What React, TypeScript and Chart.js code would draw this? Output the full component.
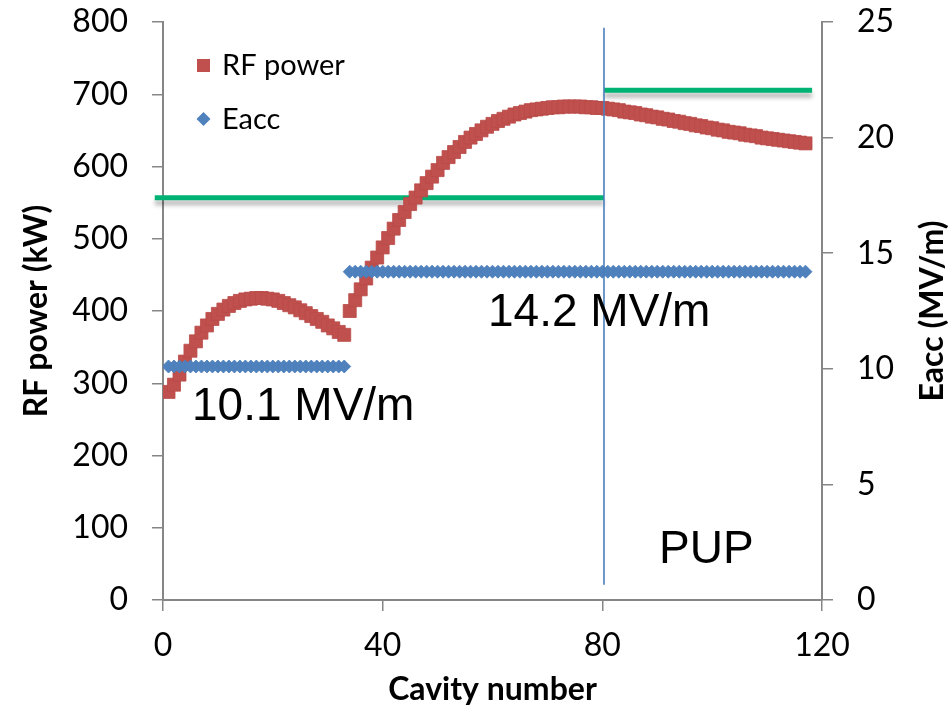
import React, { useEffect, useRef } from "react";
import { Chart, registerables } from "chart.js";

Chart.register(...registerables);

const CAVITY = [
  1, 2, 3, 4, 5, 6, 7, 8, 9, 10, 11, 12, 13, 14, 15, 16, 17, 18, 19, 20,
  21, 22, 23, 24, 25, 26, 27, 28, 29, 30, 31, 32, 33, 34, 35, 36, 37, 38, 39, 40,
  41, 42, 43, 44, 45, 46, 47, 48, 49, 50, 51, 52, 53, 54, 55, 56, 57, 58, 59, 60,
  61, 62, 63, 64, 65, 66, 67, 68, 69, 70, 71, 72, 73, 74, 75, 76, 77, 78, 79, 80,
  81, 82, 83, 84, 85, 86, 87, 88, 89, 90, 91, 92, 93, 94, 95, 96, 97, 98, 99, 100,
  101, 102, 103, 104, 105, 106, 107, 108, 109, 110, 111, 112, 113, 114, 115, 116, 117, 118,
];

// RF power (kW), cavities 1..117
const RF_POWER = [
  288, 298, 312, 330, 345, 358, 370, 380, 389, 396, 402, 407, 411, 414, 416, 417, 418, 418, 417, 416,
  414, 411, 408, 405, 401, 397, 393, 389, 385, 380, 376, 371, 367,
  400, 415, 430, 445, 460, 474, 488, 501, 514, 526, 537, 548, 557, 567, 577, 586, 595, 605, 613, 620,
  627, 634, 640, 645, 650, 655, 659, 663, 666, 669, 672, 674, 676, 678, 679, 680, 681, 682, 682, 683,
  683, 683, 683, 682, 682, 681, 681, 680, 679, 678, 676, 675, 674, 672, 671, 669, 668, 666, 665, 663,
  662, 660, 659, 657, 656, 654, 653, 651, 650, 648, 647, 646, 644, 643, 642, 640, 639, 638, 637, 636,
  635, 634, 633, 632,
];

// Eacc (MV/m), cavities 1..118
const EACC = [
  10.1, 10.1, 10.1, 10.1, 10.1, 10.1, 10.1, 10.1, 10.1, 10.1, 10.1, 10.1, 10.1, 10.1, 10.1, 10.1, 10.1,
  10.1, 10.1, 10.1, 10.1, 10.1, 10.1, 10.1, 10.1, 10.1, 10.1, 10.1, 10.1, 10.1, 10.1, 10.1, 10.1,
  14.2, 14.2, 14.2, 14.2, 14.2, 14.2, 14.2, 14.2, 14.2, 14.2, 14.2, 14.2, 14.2, 14.2, 14.2, 14.2, 14.2,
  14.2, 14.2, 14.2, 14.2, 14.2, 14.2, 14.2, 14.2, 14.2, 14.2, 14.2, 14.2, 14.2, 14.2, 14.2, 14.2, 14.2,
  14.2, 14.2, 14.2, 14.2, 14.2, 14.2, 14.2, 14.2, 14.2, 14.2, 14.2, 14.2, 14.2, 14.2, 14.2, 14.2, 14.2,
  14.2, 14.2, 14.2, 14.2, 14.2, 14.2, 14.2, 14.2, 14.2, 14.2, 14.2, 14.2, 14.2, 14.2, 14.2, 14.2, 14.2,
  14.2, 14.2, 14.2, 14.2, 14.2, 14.2, 14.2, 14.2, 14.2, 14.2, 14.2, 14.2, 14.2, 14.2, 14.2, 14.2,
];

// Green limit lines (Eacc axis)
const LIMIT_LEVELS = [17.4, 22.05];
const LIMIT_FROM = [-1.5, 80.3];
const LIMIT_TO = [80.3, 118.2];

// PUP boundary (cavity number, RF power range)
const PUP_X = 80.3;
const PUP_Y_RANGE = [21, 792];

const X_TICKS = [0, 40, 80, 120];
const LEFT_TICKS = [0, 100, 200, 300, 400, 500, 600, 700, 800];
const RIGHT_TICKS = [0, 5, 10, 15, 20, 25];

const LABELS = {
  series1: "RF power",
  series2: "Eacc",
  xTitle: "Cavity number",
  yTitle: "RF power (kW)",
  y2Title: "Eacc (MV/m)",
  note1: "10.1 MV/m",
  note2: "14.2 MV/m",
  note3: "PUP",
};

const RED = "#c0504d";
const BLUE = "#4f81bd";
const GREEN = "#00b274";
const AXIS = "#868686";
const TICK_FONT = "Lato, 'Liberation Sans', sans-serif";

const overlay = {
  id: "overlay",
  beforeDatasetsDraw(chart: any) {
    const ctx = chart.ctx;
    const xs = chart.scales.x;
    const y2 = chart.scales.y2;
    ctx.save();
    for (let i = 0; i < LIMIT_LEVELS.length; i++) {
      const py = y2.getPixelForValue(LIMIT_LEVELS[i]);
      const x0 = xs.getPixelForValue(LIMIT_FROM[i]);
      const x1 = xs.getPixelForValue(LIMIT_TO[i]);
      ctx.save();
      ctx.shadowColor = "rgba(0,0,0,0.28)";
      ctx.shadowOffsetY = 5;
      ctx.shadowBlur = 4;
      ctx.strokeStyle = GREEN;
      ctx.lineWidth = 5;
      ctx.beginPath();
      ctx.moveTo(x0, py);
      ctx.lineTo(x1, py);
      ctx.stroke();
      ctx.restore();
    }
    ctx.restore();
  },
  afterDatasetsDraw(chart: any) {
    const ctx = chart.ctx;
    const xs = chart.scales.x;
    const ys = chart.scales.y;
    const area = chart.chartArea;
    ctx.save();
    // PUP vertical line
    const px = xs.getPixelForValue(PUP_X);
    ctx.strokeStyle = "#4a7ebb";
    ctx.lineWidth = 1.6;
    ctx.beginPath();
    ctx.moveTo(px, ys.getPixelForValue(PUP_Y_RANGE[1]));
    ctx.lineTo(px, ys.getPixelForValue(PUP_Y_RANGE[0]));
    ctx.stroke();

    // Annotations
    ctx.fillStyle = "#000";
    ctx.font = "46px 'Liberation Sans', Arial, sans-serif";
    ctx.textBaseline = "alphabetic";
    ctx.textAlign = "left";
    ctx.fillText(LABELS.note1, 192, 420);
    ctx.fillText(LABELS.note2, 488, 326);
    ctx.fillText(LABELS.note3, 659, 563);

    // Legend
    ctx.fillStyle = RED;
    ctx.fillRect(197, 59, 13, 13);
    ctx.fillStyle = BLUE;
    ctx.beginPath();
    ctx.moveTo(203.5, 112);
    ctx.lineTo(210.5, 119);
    ctx.lineTo(203.5, 126);
    ctx.lineTo(196.5, 119);
    ctx.closePath();
    ctx.fill();
    ctx.fillStyle = "#000";
    ctx.font = "29px " + TICK_FONT;
    ctx.textBaseline = "middle";
    ctx.fillText(LABELS.series1, 222, 66);
    ctx.fillText(LABELS.series2, 222, 120);

    // Axis titles
    ctx.font = "bold 32px " + TICK_FONT;
    ctx.textAlign = "center";
    ctx.fillText(LABELS.xTitle, (area.left + area.right) / 2, 690);
    const cy = (area.top + area.bottom) / 2;
    ctx.save();
    ctx.translate(37, cy);
    ctx.rotate(-Math.PI / 2);
    ctx.fillText(LABELS.yTitle, 0, 0);
    ctx.restore();
    ctx.save();
    ctx.translate(933, cy);
    ctx.rotate(-Math.PI / 2);
    ctx.fillText(LABELS.y2Title, 0, 0);
    ctx.restore();
    ctx.restore();
  },
};

export default function App() {
  const ref = useRef<HTMLCanvasElement | null>(null);
  useEffect(() => {
    document.body.style.margin = "0";
    const canvas = ref.current;
    if (!canvas) return;
    const rfData = RF_POWER.map((v, i) => ({ x: CAVITY[i], y: v }));
    const eaccData = EACC.map((v, i) => ({ x: CAVITY[i], y: v }));
    const tickFont = { family: TICK_FONT, size: 32 };
    const chart = new Chart(canvas, {
      type: "scatter",
      data: {
        datasets: [
          {
            label: LABELS.series1,
            data: rfData,
            yAxisID: "y",
            pointStyle: "rect",
            pointRadius: 9.2,
            backgroundColor: RED,
            borderColor: "#b94a47",
            borderWidth: 0.8,
            order: 2,
          },
          {
            label: LABELS.series2,
            data: eaccData,
            yAxisID: "y2",
            pointStyle: "rectRot",
            pointRadius: 6.5,
            backgroundColor: BLUE,
            borderColor: "#4a7ebb",
            borderWidth: 0.8,
            order: 1,
          },
        ],
      },
      options: {
        animation: false,
        responsive: false,
        devicePixelRatio: 1,
        layout: { padding: { top: 22, left: 0, right: 0, bottom: 0 } },
        plugins: { legend: { display: false }, tooltip: { enabled: false } },
        scales: {
          x: {
            type: "linear",
            min: 0,
            max: 120,
            afterBuildTicks: (s: any) => {
              s.ticks = X_TICKS.map((v) => ({ value: v }));
            },
            afterFit: (s: any) => {
              s.height = 110;
              s.paddingLeft = 0;
              s.paddingRight = 0;
            },
            grid: { drawOnChartArea: false, drawTicks: true, tickLength: 11, color: AXIS, lineWidth: 1.5 },
            border: { color: AXIS, width: 2 },
            ticks: { font: tickFont, color: "#000", padding: 15, maxRotation: 0 },
          },
          y: {
            type: "linear",
            position: "left",
            min: 0,
            max: 800,
            afterBuildTicks: (s: any) => {
              s.ticks = LEFT_TICKS.map((v) => ({ value: v }));
            },
            afterFit: (s: any) => {
              s.width = 163;
              s.paddingTop = 0;
              s.paddingBottom = 0;
            },
            grid: { drawOnChartArea: false, drawTicks: true, tickLength: 11, color: AXIS, lineWidth: 1.5 },
            border: { color: AXIS, width: 2 },
            ticks: { font: tickFont, color: "#000", padding: 24 },
          },
          y2: {
            type: "linear",
            position: "right",
            min: 0,
            max: 25,
            afterBuildTicks: (s: any) => {
              s.ticks = RIGHT_TICKS.map((v) => ({ value: v }));
            },
            afterFit: (s: any) => {
              s.width = 129;
              s.paddingTop = 0;
              s.paddingBottom = 0;
            },
            grid: { drawOnChartArea: false, drawTicks: true, tickLength: 11, color: AXIS, lineWidth: 1.5 },
            border: { color: AXIS, width: 2 },
            ticks: { font: tickFont, color: "#000", padding: 24 },
          },
        },
      },
      plugins: [overlay],
    } as any);
    return () => chart.destroy();
  }, []);
  return (
    <div style={{ width: 951, height: 710, position: "relative" }}>
      <canvas ref={ref} width={951} height={710} style={{ display: "block", width: 951, height: 710 }} />
    </div>
  );
}
